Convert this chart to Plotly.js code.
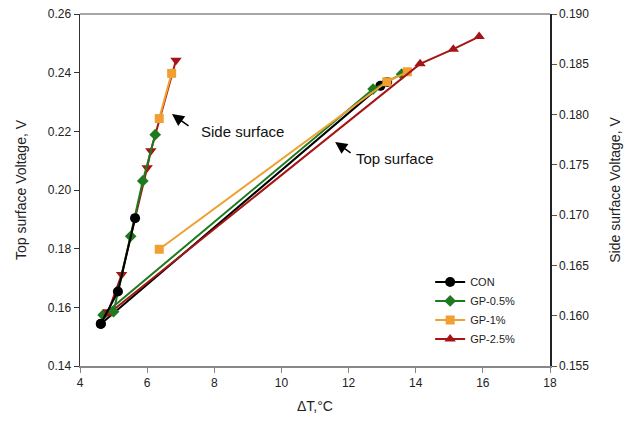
<!DOCTYPE html>
<html><head><meta charset="utf-8">
<script src="https://cdn.plot.ly/plotly-3.0.1.min.js"></script>
<style>body{margin:0;background:#fff}#c{width:635px;height:427px}</style>
</head><body><div id="c"></div>
<script>
// Top surface (left axis)
const conTopX = [4.62, 12.95, 13.15];
const conTopY = [0.1543, 0.2355, 0.2368];
const gp05TopX = [4.69, 12.73, 13.58];
const gp05TopY = [0.1574, 0.2344, 0.2395];
const gp1TopX = [6.36, 13.14, 13.75];
const gp1TopY = [0.1798, 0.2369, 0.2403];
const gp25TopX = [4.85, 14.13, 15.12, 15.89];
const gp25TopY = [0.1578, 0.2430, 0.2480, 0.2523];
// Side surface (right axis)
const conSideX = [4.62, 5.13, 5.64];
const conSideY = [0.1592, 0.1624, 0.1697];
const gp05SideX = [5.0, 5.51, 5.87, 6.24];
const gp05SideY = [0.1604, 0.1679, 0.1734, 0.1780];
const gp1SideX = [6.36, 6.73];
const gp1SideY = [0.1796, 0.1841];
const gp25SideX = [4.84, 5.24, 6.0, 6.11, 6.86];
const gp25SideY = [0.1604, 0.1641, 0.1747, 0.1764, 0.1854];

const names = ['CON', 'GP-0.5%', 'GP-1%', 'GP-2.5%'];
const colors = ['#000000', '#1f7a1f', '#f0a030', '#a51515'];
const symbols = ['circle', 'diamond', 'square', 'triangle-up'];
const sizes = [10, 9, 9, 10];

const topX = [conTopX, gp05TopX, gp1TopX, gp25TopX];
const topY = [conTopY, gp05TopY, gp1TopY, gp25TopY];
const sideX = [conSideX, gp05SideX, gp1SideX, gp25SideX];
const sideY = [conSideY, gp05SideY, gp1SideY, gp25SideY];

const traces = [];
for (let i = 0; i < 4; i++) {
  traces.push({x: topX[i], y: topY[i], name: names[i], type: 'scatter', mode: 'lines+markers',
    line: {color: colors[i], width: 2}, marker: {color: colors[i], symbol: symbols[i], size: sizes[i]},
    xaxis: 'x', yaxis: 'y'});
}
const sideSymbols = ['circle', 'diamond', 'square', 'triangle-down'];
for (let i = 3; i >= 0; i--) {
  traces.push({x: sideX[i], y: sideY[i], name: names[i], showlegend: false, type: 'scatter', mode: 'lines+markers',
    line: {color: colors[i], width: 2}, marker: {color: colors[i], symbol: sideSymbols[i], size: sizes[i]},
    xaxis: 'x', yaxis: 'y2'});
}

const font = {family: 'Liberation Sans, Arial, sans-serif', size: 12, color: '#222'};
const layout = {
  width: 635, height: 427,
  margin: {l: 80, r: 85, t: 14, b: 61},
  paper_bgcolor: '#fff', plot_bgcolor: '#fff',
  font: font,
  showlegend: true,
  legend: {x: 0.745, y: 0.28, xanchor: 'left', yanchor: 'top', bgcolor: 'rgba(0,0,0,0)',
    font: {family: 'Liberation Sans, Arial, sans-serif', size: 11, color: '#222'}, tracegroupgap: 0},
  xaxis: {range: [4, 18], dtick: 2, tick0: 4, showgrid: false, zeroline: false,
    showline: true, linecolor: '#888', linewidth: 1.5, ticks: 'outside', ticklen: 5, tickcolor: '#888',
    title: {text: 'ΔT,°C', font: {size: 14}, standoff: 12}},
  yaxis: {range: [0.14, 0.26], dtick: 0.02, tick0: 0.14, tickformat: '.2f', showgrid: false, zeroline: false,
    showline: true, linecolor: '#333', linewidth: 1.5, ticks: 'outside', ticklen: 5, tickcolor: '#333',
    title: {text: 'Top surface Voltage, V', font: {size: 14}, standoff: 18}},
  yaxis2: {range: [0.155, 0.19], dtick: 0.005, tick0: 0.155, tickformat: '.3f', overlaying: 'y', side: 'right',
    showgrid: false, zeroline: false, showline: true, linecolor: '#222', linewidth: 1.5,
    ticks: 'outside', ticklen: 5, tickcolor: '#555',
    title: {text: 'Side surface Voltage, V', font: {size: 14}, standoff: 22}},
  shapes: [{type: 'line', xref: 'paper', yref: 'paper', x0: 0, x1: 1, y0: 1, y1: 1,
    line: {color: '#888', width: 1.5}}],
  annotations: [
    {x: 6.74, y: 0.2259, xref: 'x', yref: 'y', text: '', showarrow: true, ax: 18, ay: 13,
      arrowhead: 2, arrowsize: 1.6, arrowwidth: 1.5, arrowcolor: '#000'},
    {x: 7.55, y: 0.2198, xref: 'x', yref: 'y', text: 'Side surface', showarrow: false, xanchor: 'left',
      font: {size: 15, color: '#111'}},
    {x: 11.6, y: 0.2164, xref: 'x', yref: 'y', text: '', showarrow: true, ax: 17, ay: 12,
      arrowhead: 2, arrowsize: 1.6, arrowwidth: 1.5, arrowcolor: '#000'},
    {x: 12.15, y: 0.2109, xref: 'x', yref: 'y', text: 'Top surface', showarrow: false, xanchor: 'left',
      font: {size: 15, color: '#111'}}
  ]
};
Plotly.newPlot('c', traces, layout, {displayModeBar: false, staticPlot: true});
</script></body></html>
